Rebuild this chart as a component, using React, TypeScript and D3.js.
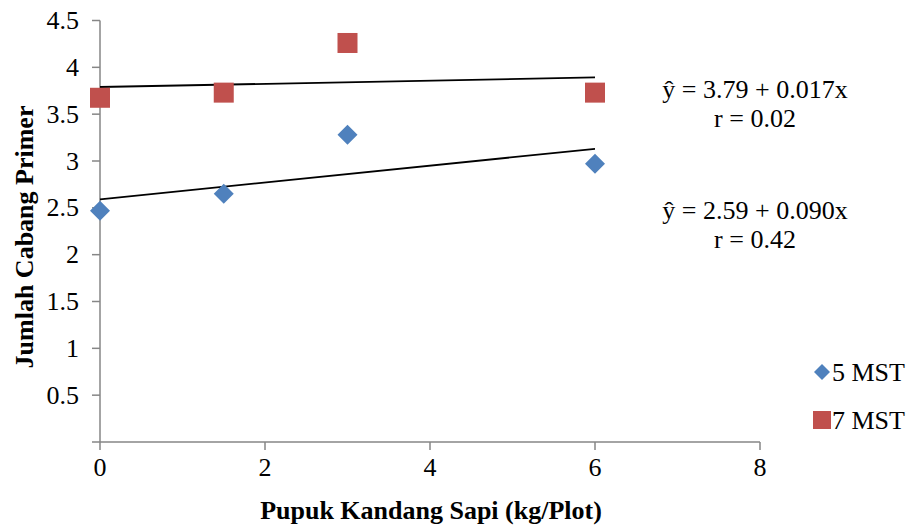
import React from 'react';
import * as d3 from 'd3';

// dosage of manure (kg/plot)
const doses = [0, 1.5, 3, 6];
const mst5 = [2.47, 2.65, 3.28, 2.97];
const mst7 = [3.675, 3.73, 4.26, 3.73];

const xTicks = [0, 2, 4, 6, 8];
const yTicks = [0.5, 1, 1.5, 2, 2.5, 3, 3.5, 4, 4.5];

// regression lines: [intercept, slope]
const fit5 = [2.59, 0.09];
const fit7 = [3.79, 0.017];
const eq5 = ['ŷ = 2.59 + 0.090x', 'r = 0.42'];
const eq7 = ['ŷ = 3.79 + 0.017x', 'r = 0.02'];

const seriesNames = ['5 MST', '7 MST'];

const BLUE = '#4F81BD';
const RED = '#C0504D';
const AXIS = '#868686';
const FONT = "'Liberation Serif'";

export default function App() {
  const x = d3.scaleLinear().domain([0, 8]).range([100, 760]);
  const y = d3.scaleLinear().domain([0, 4.5]).range([442, 20.5]);

  const fitPath = (f: number[]) => {
    const ends = [0, 6];
    return d3.line<number>().x(d => x(d)).y(d => y(f[0] + f[1] * d))(ends) || '';
  };

  const diamond = (cx: number, cy: number, r = 10) =>
    `M${cx},${cy - r}L${cx + r},${cy}L${cx},${cy + r}L${cx - r},${cy}Z`;

  const txt = { fontFamily: FONT };

  return (
    <svg width={914} height={526} style={{ position: 'absolute', left: 0, top: 0 }}>
      <rect width={914} height={526} fill="#fff" />
      {/* y axis */}
      <line x1={x(0)} x2={x(0)} y1={y(4.5)} y2={y(0)} stroke={AXIS} strokeWidth={1.5} />
      {[0, ...yTicks].map(t => (
        <line key={'yt' + t} x1={x(0) - 8} x2={x(0)} y1={y(t)} y2={y(t)} stroke={AXIS} strokeWidth={1.5} />
      ))}
      {yTicks.map(t => (
        <text key={'yl' + t} style={txt} x={x(0) - 21} y={y(t)} dy="0.33em" textAnchor="end" fontSize={26} fill="#000">
          {t}
        </text>
      ))}
      {/* x axis */}
      <line x1={x(0)} x2={x(8)} y1={y(0)} y2={y(0)} stroke={AXIS} strokeWidth={1.5} />
      {xTicks.map(t => (
        <line key={'xt' + t} x1={x(t)} x2={x(t)} y1={y(0)} y2={y(0) + 8} stroke={AXIS} strokeWidth={1.5} />
      ))}
      {xTicks.map(t => (
        <text key={'xl' + t} style={txt} x={x(t)} y={y(0) + 25} dy="0.33em" textAnchor="middle" fontSize={26} fill="#000">
          {t}
        </text>
      ))}
      {/* titles */}
      <text style={txt} x={431} y={519} textAnchor="middle" fontSize={26} fontWeight="bold">
        Pupuk Kandang Sapi (kg/Plot)
      </text>
      <text style={txt} transform={`translate(33,237) rotate(-90)`} textAnchor="middle" fontSize={26} fontWeight="bold">
        Jumlah Cabang Primer
      </text>
      {/* trend lines */}
      <path d={fitPath(fit7)} stroke="#000" strokeWidth={1.8} fill="none" />
      <path d={fitPath(fit5)} stroke="#000" strokeWidth={1.8} fill="none" />
      {/* points */}
      {doses.map((d, i) => (
        <path key={'d' + i} d={diamond(x(d), y(mst5[i]))} fill={BLUE} />
      ))}
      {doses.map((d, i) => (
        <rect key={'s' + i} x={x(d) - 10} y={y(mst7[i]) - 10} width={20} height={20} fill={RED} />
      ))}
      {/* equations */}
      {eq7.map((s, i) => (
        <text key={'e7' + i} style={txt} x={755} y={89 + i * 29} dy="0.33em" textAnchor="middle" fontSize={26}>
          {s}
        </text>
      ))}
      {eq5.map((s, i) => (
        <text key={'e5' + i} style={txt} x={755} y={210 + i * 29} dy="0.33em" textAnchor="middle" fontSize={26}>
          {s}
        </text>
      ))}
      {/* legend */}
      <path d={diamond(822, 372, 8)} fill={BLUE} />
      <text style={txt} x={832} y={372} dy="0.33em" fontSize={26}>{seriesNames[0]}</text>
      <rect x={813} y={411} width={18} height={18} fill={RED} />
      <text style={txt} x={832} y={420} dy="0.33em" fontSize={26}>{seriesNames[1]}</text>
    </svg>
  );
}
